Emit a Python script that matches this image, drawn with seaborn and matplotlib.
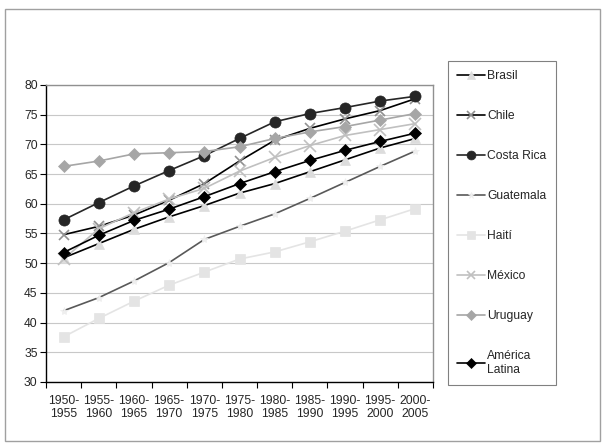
import numpy as np
import pandas as pd
import matplotlib
matplotlib.use("Agg")
import matplotlib.pyplot as plt
import seaborn as sns
from matplotlib.patches import Rectangle

periodos = ["1950-\n1955", "1955-\n1960", "1960-\n1965", "1965-\n1970", "1970-\n1975",
            "1975-\n1980", "1980-\n1985", "1985-\n1990", "1990-\n1995", "1995-\n2000",
            "2000-\n2005"]

brasil = [50.9, 53.3, 55.7, 57.8, 59.7, 61.8, 63.4, 65.4, 67.4, 69.4, 71.0]
chile = [54.8, 56.2, 58.1, 60.6, 63.4, 67.2, 70.7, 72.7, 74.3, 75.7, 77.7]
costa_rica = [57.3, 60.2, 63.0, 65.6, 68.1, 71.0, 73.8, 75.2, 76.2, 77.3, 78.1]
guatemala = [42.0, 44.2, 47.0, 50.1, 54.0, 56.2, 58.3, 60.9, 63.6, 66.3, 68.9]
haiti = [37.6, 40.7, 43.6, 46.3, 48.5, 50.7, 51.9, 53.6, 55.4, 57.3, 59.2]
mexico = [50.7, 55.8, 58.5, 60.8, 62.6, 65.5, 67.8, 69.8, 71.5, 72.5, 73.5]
uruguay = [66.3, 67.2, 68.4, 68.6, 68.8, 69.6, 71.0, 72.1, 73.0, 74.1, 75.2]
america_latina = [51.8, 54.7, 57.2, 59.1, 61.2, 63.4, 65.4, 67.3, 69.0, 70.5, 71.9]

series = {
    "Brasil": brasil,
    "Chile": chile,
    "Costa Rica": costa_rica,
    "Guatemala": guatemala,
    "Haití": haiti,
    "México": mexico,
    "Uruguay": uruguay,
    "América\nLatina": america_latina,
}

# line colour, marker, marker colour, marker size
estilos = {
    "Brasil": ("#000000", "^", "#dcdcdc", 7),
    "Chile": ("#000000", "x", "#909090", 7),
    "Costa Rica": ("#262626", "o", "#262626", 8),
    "Guatemala": ("#595959", "*", "#eeeeee", 6),
    "Haití": ("#e4e4e4", "s", "#e4e4e4", 7),
    "México": ("#c0c0c0", "x", "#c0c0c0", 8),
    "Uruguay": ("#a6a6a6", "D", "#a6a6a6", 6),
    "América\nLatina": ("#000000", "D", "#000000", 6),
}

sns.set_style("white")
plt.rcParams["font.family"] = ["Liberation Sans", "DejaVu Sans"]

fig = plt.figure(figsize=(6.06, 4.48), dpi=100)
fig.patches.append(Rectangle((5 / 606, 1 - 441 / 448), 595 / 606, 432 / 448,
                             transform=fig.transFigure, fill=False,
                             edgecolor="#a0a0a0", linewidth=1.0))
ax = fig.add_axes([46 / 606, 1 - 382 / 448, 387 / 606, 297 / 448])

x = np.arange(len(periodos))
handles = []
for nombre, valores in series.items():
    lc, mk, mc, ms = estilos[nombre]
    df = pd.DataFrame({"x": x, "y": valores})
    sns.lineplot(data=df, x="x", y="y", ax=ax, color=lc, linewidth=1.2,
                 marker=mk, markersize=ms, markerfacecolor=mc,
                 markeredgecolor=mc, markeredgewidth=1.2 if mk == "x" else 0.5,
                 label=nombre, legend=False)
    handles.append(ax.lines[-1])

ax.set_xlim(-0.5, len(periodos) - 0.5)
ax.set_ylim(30, 80)
ax.set_yticks(range(30, 81, 5))
ax.set_xticks(x)
ax.set_xticklabels(periodos)
ax.set_xticks(np.arange(-0.5, len(periodos), 1), minor=True)
ax.tick_params(axis="x", which="major", length=0, pad=9, labelsize=8.7)
ax.tick_params(axis="x", which="minor", length=4, width=0.8, color="black",
               direction="out", bottom=True)
ax.tick_params(axis="y", length=4, width=0.8, color="black", direction="out",
               left=True, labelsize=8.7, pad=2)
ax.set_xlabel("")
ax.set_ylabel("")
ax.grid(axis="y", color="#c8c8c8", linewidth=0.8)
ax.set_axisbelow(True)
for s in ["left", "bottom"]:
    ax.spines[s].set_color("black")
    ax.spines[s].set_linewidth(1.0)
for s in ["top", "right"]:
    ax.spines[s].set_color("#909090")
    ax.spines[s].set_linewidth(1.0)

leg = fig.legend(handles, list(series.keys()), loc="upper left",
                 bbox_to_anchor=(448 / 606, 1 - 61 / 448), borderaxespad=0,
                 fontsize=8.7, frameon=True, fancybox=False, handlelength=2.3,
                 labelspacing=2.32, borderpad=0.75, handletextpad=0.2,
                 markerscale=0.8)
leg.get_frame().set_edgecolor("#606060")
leg.get_frame().set_linewidth(0.8)

fig.savefig("out.png", dpi=100)
